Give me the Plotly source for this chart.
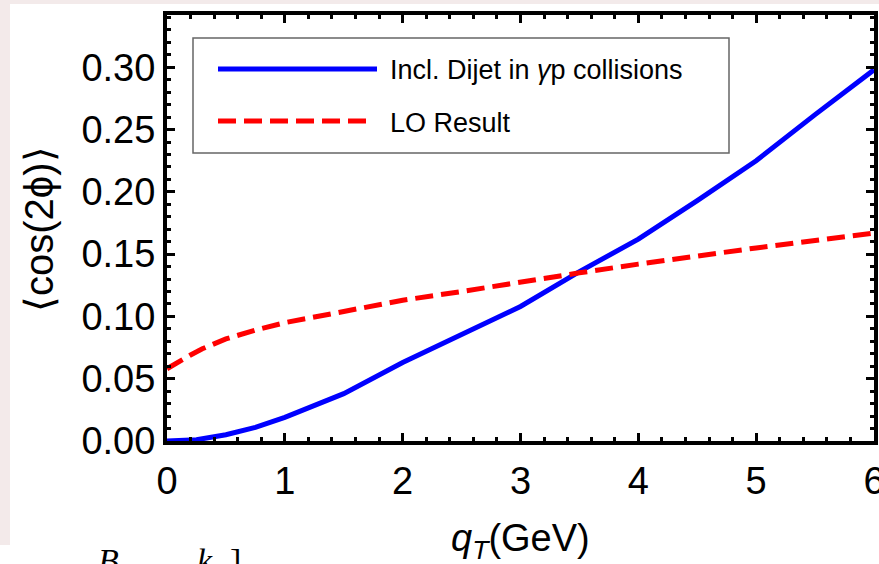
import plotly.graph_objects as go

# Data
q_blue = [0, 0.25, 0.5, 0.75, 1.0, 1.25, 1.5, 2.0, 2.5, 3.0, 3.5, 4.0, 4.5, 5.0, 5.5, 6.0]
v_blue = [0.0, 0.001, 0.005, 0.011, 0.019, 0.028, 0.038, 0.063, 0.086, 0.108, 0.136, 0.162, 0.193, 0.225, 0.262, 0.298]

q_red = [0, 0.1, 0.2, 0.3, 0.5, 0.75, 1.0, 1.5, 2.0, 2.5, 3.0, 3.5, 4.0, 4.5, 5.0, 5.5, 6.0]
v_red = [0.058, 0.064, 0.069, 0.074, 0.082, 0.089, 0.095, 0.104, 0.113, 0.120, 0.128, 0.135, 0.142, 0.149, 0.155, 0.161, 0.167]

series_names = ["Incl. Dijet in <i>γ</i>p collisions", "LO Result"]
x_ticks = [0, 1, 2, 3, 4, 5, 6]
y_ticks = [0.0, 0.05, 0.10, 0.15, 0.20, 0.25, 0.30]
y_tick_labels = ["0.00", "0.05", "0.10", "0.15", "0.20", "0.25", "0.30"]

W, H = 879, 564
L, R, T, B = 167, 5, 15, 123
PW, PH = W - L - R, H - T - B

def px(xp):
    return (xp - L) / PW

def py(yp):
    return (H - B - yp) / PH

FONT = "Liberation Sans, Arial, Helvetica, sans-serif"

fig = go.Figure()
fig.add_trace(go.Scatter(x=q_blue, y=v_blue, mode="lines", name=series_names[0],
                         line=dict(color="#0000ff", width=5), showlegend=False))
fig.add_trace(go.Scatter(x=q_red, y=v_red, mode="lines", name=series_names[1],
                         line=dict(color="#ff0000", width=5, dash="18px,8px"), showlegend=False))

shapes = [
    # pink page background strips
    dict(type="rect", xref="paper", yref="paper", x0=px(0), x1=px(10), y0=py(545), y1=py(0),
         fillcolor="#f3eaea", line=dict(width=0), layer="below"),
    dict(type="rect", xref="paper", yref="paper", x0=px(0), x1=px(879), y0=py(4), y1=py(0),
         fillcolor="#f3eaea", line=dict(width=0), layer="below"),
    # legend box
    dict(type="rect", xref="paper", yref="paper", x0=px(193), x1=px(729), y0=py(153), y1=py(38),
         fillcolor="white", line=dict(color="#666666", width=1.5), layer="above"),
    dict(type="line", xref="paper", yref="paper", x0=px(218), x1=px(377), y0=py(69), y1=py(69),
         line=dict(color="#0000ff", width=5), layer="above"),
    dict(type="line", xref="paper", yref="paper", x0=px(218), x1=px(368), y0=py(121), y1=py(121),
         line=dict(color="#ff0000", width=5, dash="18px,8px"), layer="above"),
]

annotations = [
    dict(xref="paper", yref="paper", x=px(388), y=py(70), xanchor="left", yanchor="middle",
         text=series_names[0], showarrow=False, font=dict(family=FONT, size=27, color="black")),
    dict(xref="paper", yref="paper", x=px(388), y=py(123), xanchor="left", yanchor="middle",
         text=series_names[1], showarrow=False, font=dict(family=FONT, size=27, color="black")),
    # axis titles
    dict(xref="paper", yref="paper", x=px(520), y=py(541), xanchor="center", yanchor="middle",
         text="<i>q</i><sub><i>T</i></sub>(GeV)", showarrow=False,
         font=dict(family=FONT, size=38, color="black")),
    dict(xref="paper", yref="paper", x=px(39), y=py(229), xanchor="center", yanchor="middle",
         text="⟨cos(2ϕ)⟩", textangle=-90, showarrow=False,
         font=dict(family=FONT, size=40, color="black")),
    # cropped text from page below
    dict(xref="paper", yref="paper", x=px(96), y=py(540), xanchor="left", yanchor="top",
         text="<i>B</i>", showarrow=False, font=dict(family="Liberation Serif, serif", size=34, color="black")),
    dict(xref="paper", yref="paper", x=px(195), y=py(540), xanchor="left", yanchor="top",
         text="<i>k</i>", showarrow=False, font=dict(family="Liberation Serif, serif", size=34, color="black")),
    dict(xref="paper", yref="paper", x=px(228), y=py(540), xanchor="left", yanchor="top",
         text="]", showarrow=False, font=dict(family="Liberation Serif, serif", size=34, color="black")),
]

axis_common = dict(showgrid=False, zeroline=False, showline=True, linecolor="black", linewidth=4,
                   mirror="ticks", ticks="inside", tickcolor="black", tickwidth=3, ticklen=8,
                   ticklabeloverflow="allow",
                   tickfont=dict(family=FONT, size=38, color="black"))

fig.update_layout(
    width=W, height=H,
    margin=dict(l=L, r=R, t=T, b=B, autoexpand=False),
    paper_bgcolor="white", plot_bgcolor="white",
    shapes=shapes, annotations=annotations,
    xaxis=dict(range=[0, 6], tickvals=x_ticks, ticktext=[str(v) for v in x_ticks],
               minor=dict(ticks="inside", dtick=0.2, ticklen=4, tickwidth=2.5, tickcolor="black"),
               ticklabelstandoff=3,
               **axis_common),
    yaxis=dict(range=[0, 0.342], tickvals=y_ticks, ticktext=y_tick_labels,
               minor=dict(ticks="inside", dtick=0.01, ticklen=4, tickwidth=2.5, tickcolor="black"),
               **axis_common),
)

fig.write_html("out.html", config={"displayModeBar": False},
               post_script="document.body.style.margin='0';document.body.style.overflow='hidden';")
